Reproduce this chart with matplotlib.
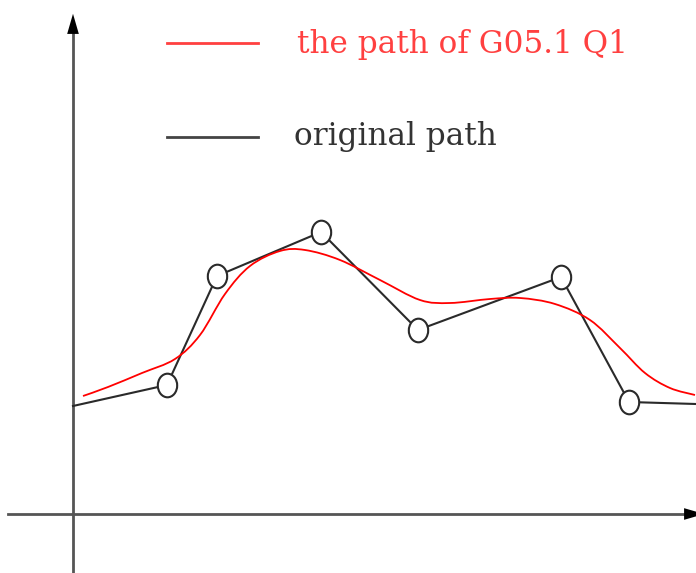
import matplotlib.pyplot as plt
from matplotlib.path import Path
from matplotlib.patches import PathPatch
from matplotlib.transforms import Affine2D

# black polyline (original path), pixel coords of the picture
orig_x = [73, 167, 217, 321, 418, 561, 629, 696]
orig_y = [406, 385, 276, 232, 330, 277, 402, 404]
# circled points of the original path
node_x = orig_x[1:7]
node_y = orig_y[1:7]

# red curve (G05.1 Q1 path)
g05_x = [83, 108, 142, 175, 200, 225, 250, 280, 305, 340, 380, 420, 450, 490, 520,
         555, 590, 620, 645, 670, 695]
g05_y = [396, 387, 373, 359, 335, 294, 266, 251, 250, 260, 280, 300, 303, 299, 298,
         304, 320, 348, 373, 388, 395]

legend_labels = ['the path of G05.1 Q1', 'original path']

fig = plt.figure(figsize=(6.96, 5.73), dpi=100)
ax = fig.add_axes([0, 0, 1, 1])
ax.set_xlim(0, 696)
ax.set_ylim(573, 0)
ax.axis('off')

# axes with arrows
axis_col = '#555555'
ax.plot([73, 73], [573, 30], color=axis_col, lw=2)
ax.plot([8, 692], [514, 514], color=axis_col, lw=2)
head = '-|>,head_length=1.45,head_width=0.42'
ax.annotate('', xy=(73, 11), xytext=(73, 45), annotation_clip=False,
            arrowprops=dict(arrowstyle=head, color='black', lw=0))
ax.annotate('', xy=(707, 514), xytext=(670, 514), annotation_clip=False,
            arrowprops=dict(arrowstyle=head, color='black', lw=0))

# smooth red curve: bezier segments through the read points (catmull-rom tangents)
pts = list(zip(g05_x, g05_y))
verts = [pts[0]]
codes = [Path.MOVETO]
for i in range(len(pts) - 1):
    p0 = pts[i - 1] if i > 0 else pts[i]
    p1 = pts[i]
    p2 = pts[i + 1]
    p3 = pts[i + 2] if i + 2 < len(pts) else pts[i + 1]
    c1 = (p1[0] + (p2[0] - p0[0]) / 6, p1[1] + (p2[1] - p0[1]) / 6)
    c2 = (p2[0] - (p3[0] - p1[0]) / 6, p2[1] - (p3[1] - p1[1]) / 6)
    verts += [c1, c2, p2]
    codes += [Path.CURVE4] * 3
ax.add_patch(PathPatch(Path(verts, codes), fill=False, edgecolor='#ff0000', lw=1.3, zorder=3))

ax.plot(orig_x, orig_y, color='#2a2a2a', lw=1.5, zorder=2)
oval = Path.unit_circle().transformed(Affine2D().scale(0.82, 1.0))
ax.plot(node_x, node_y, ls='none', marker=oval, ms=17, mfc='white', mec='#2a2a2a', mew=1.5, zorder=4)

# hand-drawn legend
ax.plot([167, 258], [43, 43], color='#ff4040', lw=2)
ax.plot([167, 258], [137, 137], color='#444444', lw=2)
ax.text(297, 44, legend_labels[0], color='#ff4040', fontsize=22.4,
        family='DejaVu Serif', va='center')
ax.text(294, 137, legend_labels[1], color='#333333', fontsize=22.4,
        family='DejaVu Serif', va='center')

fig.savefig('out.png', dpi=100)
